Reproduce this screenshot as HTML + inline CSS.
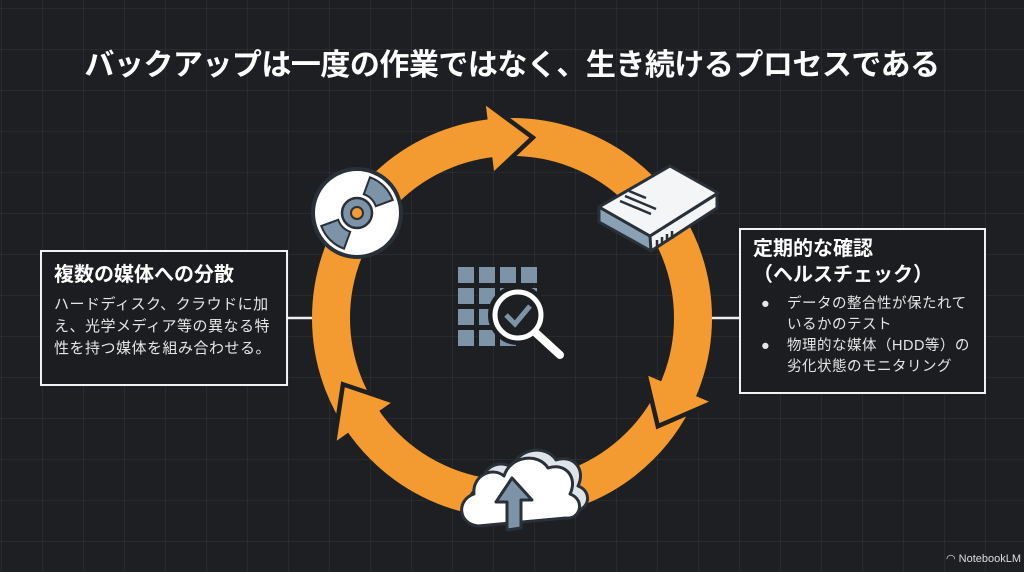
<!DOCTYPE html>
<html><head><meta charset="utf-8"><style>
html,body{margin:0;padding:0}
body{width:1024px;height:572px;overflow:hidden;background:#1d1f23;position:relative;font-family:"Liberation Sans","Noto Sans CJK JP",sans-serif;color:#fff;
background-image:linear-gradient(rgba(255,255,255,0.05) 1px,transparent 1px),linear-gradient(90deg,rgba(255,255,255,0.05) 1px,transparent 1px);
background-size:41px 41px;background-position:0 8px,1px 0}
.title{position:absolute;left:0;top:40px;width:1024px;text-align:center;font-size:30px;font-weight:bold;letter-spacing:-0.5px}
.box{position:absolute;border:2.5px solid #f2f2f2;background:#1c1d20;box-sizing:border-box;white-space:nowrap}
.h{font-weight:bold;font-size:20px;line-height:26px}
.b{font-size:15px;line-height:22px;color:#e6e6e6;letter-spacing:0.5px}
svg{position:absolute;left:0;top:0}
</style></head><body>
<div class="title">バックアップは一度の作業ではなく、生き続けるプロセスである</div>
<svg width="1024" height="572" id="s">
<line x1="286" y1="318" x2="315" y2="318" stroke="#eee" stroke-width="2.5"/>
<line x1="708" y1="318" x2="741" y2="318" stroke="#eee" stroke-width="2.5"/>
<circle cx="512" cy="318" r="181" fill="none" stroke="#f39a30" stroke-width="38"/>
<g id="heads"></g>
<g fill="#7d93a8">
<rect x="458" y="267" width="16" height="16"/><rect x="479" y="267" width="16" height="16"/><rect x="500" y="267" width="16" height="16"/><rect x="521" y="267" width="16" height="16"/>
<rect x="458" y="288" width="16" height="16"/><rect x="479" y="288" width="16" height="16"/><rect x="500" y="288" width="16" height="16"/><rect x="521" y="288" width="16" height="16"/>
<rect x="458" y="309" width="16" height="16"/><rect x="479" y="309" width="16" height="16"/><rect x="500" y="309" width="16" height="16"/>
<rect x="458" y="330" width="16" height="16"/><rect x="479" y="330" width="16" height="16"/><rect x="500" y="330" width="16" height="16"/>
</g>
<circle cx="518" cy="315" r="25" fill="#1d1f23" stroke="#1d1f23" stroke-width="10"/>
<circle cx="518" cy="315" r="23" fill="#1d1f23" stroke="#fff" stroke-width="5"/>
<line x1="536" y1="333" x2="560" y2="355" stroke="#fff" stroke-width="8" stroke-linecap="round"/>
<polyline points="506,315 515,324 530,306" fill="none" stroke="#7d93a8" stroke-width="5"/>
<circle cx="357" cy="213" r="44" fill="#fff" stroke="#2a3038" stroke-width="4"/>
<path id="sec1" d="" fill="#7d93a8" stroke="#2a3038" stroke-width="2"/>
<path id="sec2" d="" fill="#7d93a8" stroke="#2a3038" stroke-width="2"/>
<circle cx="357" cy="213" r="15" fill="#7d93a8" stroke="#2a3038" stroke-width="2.5"/>
<circle cx="357" cy="213" r="6" fill="#f39a30" stroke="#2a3038" stroke-width="2"/>
<polygon points="599,207 599,222 651,251 717,208 717,194 650,236" fill="#8aa0b5" stroke="#2a3038" stroke-width="3" stroke-linejoin="round"/>
<polygon points="650,236 651,251 717,208 717,194" fill="#f2f4f6" stroke="#2a3038" stroke-width="3" stroke-linejoin="round"/>
<polygon points="599,207 670,166 718,193 650,236" fill="#f4f5f7" stroke="#2a3038" stroke-width="3" stroke-linejoin="round"/>
<g stroke="#2a3038" stroke-width="2.5"><line x1="620" y1="201" x2="651" y2="214"/><line x1="625" y1="196" x2="656" y2="209"/><line x1="629" y1="191" x2="646" y2="198"/>
<line x1="657" y1="240" x2="657" y2="248"/><line x1="662" y1="237" x2="662" y2="245"/><line x1="667" y1="234" x2="667" y2="242"/><line x1="672" y1="231" x2="672" y2="239"/></g>
<g stroke="#2a3038" stroke-width="3" stroke-linejoin="round">
<path d="M478,526 C458,524 456,500 474,494 C472,476 492,466 504,476 C510,456 538,452 548,468 C566,462 578,478 570,494 C586,500 580,520 566,518 Z" fill="#dfe4ea" transform="translate(8,-8)"/>
<path d="M478,526 C458,524 456,500 474,494 C472,476 492,466 504,476 C510,456 538,452 548,468 C566,462 578,478 570,494 C586,500 580,520 566,518 Z" fill="#fff"/>
<polygon points="512,478 532,500 521,500 521,528 507,530 507,502 496,502" fill="#7d93a8"/>
</g>
</svg>
<div class="box" style="left:40px;top:250px;width:248px;height:136px;padding:10px 0 0 12px">
<div class="h" style="margin-bottom:6px">複数の媒体への分散</div>
<div class="b">ハードディスク、クラウドに加<br>え、光学メディア等の異なる特<br>性を持つ媒体を組み合わせる。</div>
</div>
<div class="box" style="left:739px;top:228px;width:247px;height:166px;padding:6px 0 0 12px">
<div class="h">定期的な確認<br>（ヘルスチェック）</div>
<div class="b" style="position:relative;padding-left:34px;margin-top:6px;line-height:21px;font-size:14.5px">
<span style="position:absolute;left:8px;top:0">●</span>データの整合性が保たれて<br>いるかのテスト<br>
<span style="position:absolute;left:8px;top:42px">●</span>物理的な媒体（HDD等）の<br>劣化状態のモニタリング
</div>
</div>
<div style="position:absolute;left:946px;top:552px;font-size:11px;color:#ddd;white-space:nowrap">◠ NotebookLM</div>
<script>
var cx=512,cy=318;
function P(a,r){a=a*Math.PI/180;return (cx+r*Math.cos(a)).toFixed(1)+","+(cy+r*Math.sin(a)).toFixed(1);}
var g=document.getElementById("heads"),h="";
[-84.5,35.5,157.5].forEach(function(t){
 var b=t-12.5;
 var pts=P(b,214)+" "+P(t,181)+" "+P(b,148);
 h+='<polyline points="'+pts+'" fill="none" stroke="#1d1f23" stroke-width="9" stroke-linejoin="miter"/>';
 h+='<polygon points="'+pts+'" fill="#f39a30"/>';
});
g.innerHTML=h;
function sec(a1,a2){var x=357,y=213;function Q(a,r){a=a*Math.PI/180;return (x+r*Math.cos(a)).toFixed(1)+","+(y+r*Math.sin(a)).toFixed(1);}
return "M"+Q(a1,20)+" L"+Q(a1,38)+" A38,38 0 0 1 "+Q(a2,38)+" L"+Q(a2,20)+" A20,20 0 0 0 "+Q(a1,20)+"Z";}
document.getElementById("sec1").setAttribute("d",sec(-70,-20));
document.getElementById("sec2").setAttribute("d",sec(110,160));
</script>
</body></html>
